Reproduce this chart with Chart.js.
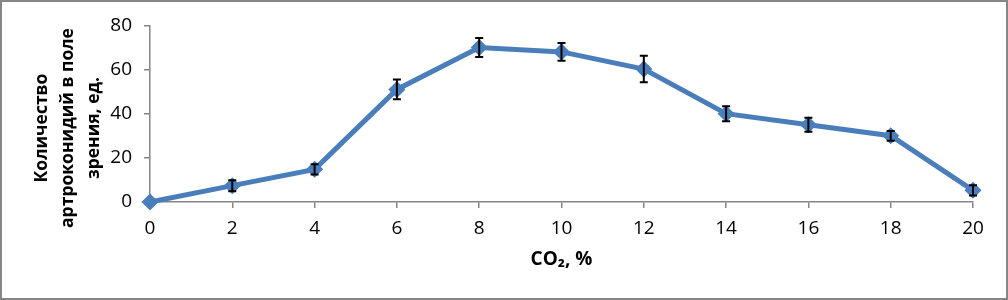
<!DOCTYPE html>
<html>
<head>
<meta charset="utf-8">
<script src="https://cdn.jsdelivr.net/npm/chart.js@4"></script>
<style>
  html, body { margin: 0; padding: 0; background: #fff; }
  #wrap { width: 1008px; height: 300px; box-sizing: border-box; border: 2px solid #868686; }
  #chart { display: block; }
</style>
</head>
<body>
<div id="wrap"><canvas id="chart" width="1004" height="296"></canvas></div>
<script>
// данные
const co2 = [0, 2, 4, 6, 8, 10, 12, 14, 16, 18, 20];
const counts = [0, 7.4, 14.8, 51, 70, 68, 60.2, 40, 35, 30, 5.3];
const errs = [0, 2.5, 2.3, 4.5, 4.3, 4, 6, 3.4, 3.2, 2.2, 2.3];
const yTitle = ['Количество', 'артроконидий в поле', 'зрения, ед.'];
const xTitle = 'CO₂, %';

const fontFamily = "'Open Sans', 'Noto Sans', sans-serif";
const axisColor = '#868686';
const lineColor = '#4A7EBB';

// усы погрешностей
const errorBars = {
  id: 'errorBars',
  afterDatasetsDraw(chart) {
    const ctx = chart.ctx;
    const x = chart.scales.x, y = chart.scales.y;
    ctx.save();
    ctx.strokeStyle = '#000';
    ctx.lineWidth = 2;
    co2.forEach((c, i) => {
      if (!errs[i]) return;
      const px = x.getPixelForValue(c);
      const top = y.getPixelForValue(counts[i] + errs[i]);
      const bot = y.getPixelForValue(counts[i] - errs[i]);
      ctx.beginPath();
      ctx.moveTo(px, top); ctx.lineTo(px, bot);
      ctx.moveTo(px - 4, top); ctx.lineTo(px + 4, top);
      ctx.moveTo(px - 4, bot); ctx.lineTo(px + 4, bot);
      ctx.stroke();
    });
    ctx.restore();
  }
};

// подпись оси Y (три строки, повернута)
const yTitlePlugin = {
  id: 'yTitle',
  afterDraw(chart) {
    const ctx = chart.ctx;
    ctx.save();
    ctx.translate(0, 126);
    ctx.rotate(-Math.PI / 2);
    ctx.font = "bold 17.5px " + fontFamily;
    ctx.fillStyle = '#000';
    ctx.textAlign = 'center';
    ctx.textBaseline = 'middle';
    const xs = [40, 66, 92];
    yTitle.forEach((t, i) => ctx.fillText(t, 0, xs[i]));
    ctx.restore();
  }
};

new Chart(document.getElementById('chart'), {
  type: 'line',
  data: {
    datasets: [{
      data: co2.map((c, i) => ({ x: c, y: counts[i] })),
      borderColor: lineColor,
      backgroundColor: lineColor,
      borderWidth: 5,
      pointStyle: 'rectRot',
      pointRadius: 5,
      pointHoverRadius: 5,
      tension: 0,
      clip: false
    }]
  },
  options: {
    responsive: false,
    animation: false,
    events: [],
    layout: { padding: { top: 22, right: 33, left: 0, bottom: 27 } },
    plugins: { legend: { display: false }, tooltip: { enabled: false } },
    scales: {
      x: {
        type: 'linear',
        min: 0,
        max: 20,
        afterFit(s) { s.height = 69; },
        ticks: {
          stepSize: 2,
          color: '#000',
          padding: 9,
          font: { family: fontFamily, size: 19 }
        },
        grid: { drawOnChartArea: false, tickLength: 6, color: axisColor, lineWidth: 1.5 },
        border: { color: axisColor, width: 1.5 },
        title: {
          display: true,
          text: xTitle,
          color: '#000',
          padding: { top: 4, bottom: 0 },
          font: { family: fontFamily, size: 19, weight: 'bold' }
        }
      },
      y: {
        min: 0,
        max: 80,
        afterFit(s) { s.width = 148; },
        ticks: {
          stepSize: 20,
          color: '#000',
          padding: 12,
          font: { family: fontFamily, size: 19 }
        },
        grid: { drawOnChartArea: false, tickLength: 6, color: axisColor, lineWidth: 1.5 },
        border: { color: axisColor, width: 1.5 }
      }
    }
  },
  plugins: [errorBars, yTitlePlugin]
});
</script>
</body>
</html>
